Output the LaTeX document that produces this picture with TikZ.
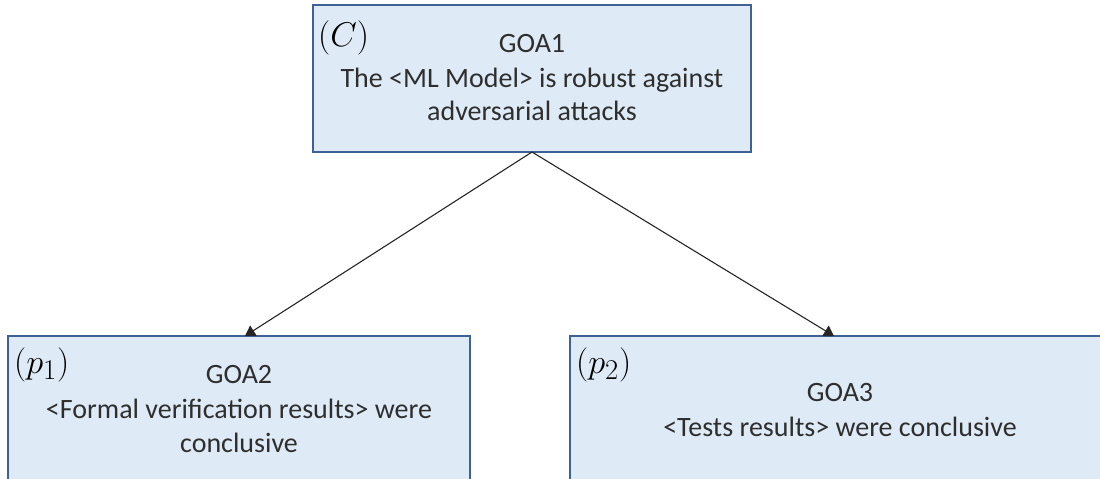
\documentclass[tikz,border=0pt]{standalone}
\usepackage{graphicx}
\usepackage{fontspec}
\setmainfont{Carlito}
\usetikzlibrary{arrows.meta}
\definecolor{goalfill}{HTML}{DEEBF7}
\definecolor{goalline}{HTML}{3E6297}
\definecolor{goaltext}{HTML}{2E2E2E}
\newcommand{\goaltag}[1]{\scalebox{1.38}{$#1$}}
\begin{document}
\begin{tikzpicture}[x=1pt,y=-1pt,
  goal/.style={draw=goalline, fill=goalfill, line width=2pt, inner sep=0pt, outer sep=0pt},
  goaltxt/.style={anchor=base, text=goaltext, font=\fontsize{28}{34}\selectfont, inner sep=0pt},
  tag/.style={anchor=base west, inner sep=0pt, font=\fontsize{24.88}{30}\selectfont},
  link/.style={draw=black!85, line width=1.1pt, -{Triangle[width=12pt,length=10pt]}}]
\clip (0,0) rectangle (1100,479);
\fill[white] (0,0) rectangle (1100,479);

% goal boxes
\node[goal, minimum width=438pt, minimum height=147pt] (c)  at (532,78.5) {};
\node[goal, minimum width=462pt, minimum height=184pt] (p1) at (239,428) {};
\node[goal, minimum width=534pt, minimum height=184pt] (p2) at (837,428) {};

% top goal
\node[tag] (ctag) at (318,46) {\goaltag{(C)}};
\node[goaltxt] (c1) at (532,52.5) {GOA1};
\node[goaltxt] (c2) at (532,87.5) {The <ML Model> is robust against};
\node[goaltxt] (c3) at (532,120) {adversarial attacks};

% left sub-goal
\node[tag] (p1tag) at (14,373) {\goaltag{(p_1)}};
\node[goaltxt] (p11) at (239,383.5) {GOA2};
\node[goaltxt] (p12) at (239,418) {<Formal verification results> were};
\node[goaltxt] (p13) at (239,452) {conclusive};

% right sub-goal
\node[tag] (p2tag) at (576,373) {\goaltag{(p_2)}};
\node[goaltxt] (p21) at (840,401.5) {GOA3};
\node[goaltxt] (p22) at (840,436.5) {<Tests results> were conclusive};

% decomposition links
\draw[link] (c.south) -- ([xshift=6pt]p1.north);
\draw[link] (c.south) -- ([xshift=-3pt]p2.north);
\end{tikzpicture}
\end{document}
